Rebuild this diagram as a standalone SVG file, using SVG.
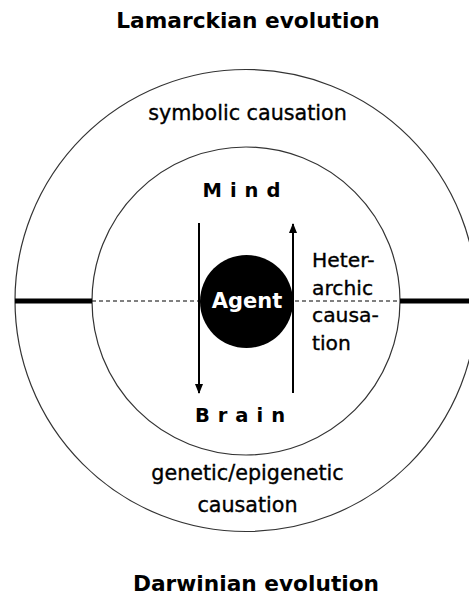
<svg xmlns="http://www.w3.org/2000/svg" width="469" height="599" viewBox="0 0 469 599">
<style>
text{font-family:"DejaVu Sans","Liberation Sans",sans-serif;fill:#000}
.title{font-weight:bold;font-size:21.7px;text-anchor:middle}
.lbl{font-size:20.7px;text-anchor:middle;stroke:#000;stroke-width:0.35}
.pole{font-weight:bold;font-size:19.5px;text-anchor:middle;letter-spacing:8px}
.het{font-size:20.3px;stroke:#000;stroke-width:0.35}
.ring{fill:none;stroke:#333;stroke-width:1.2}
.arr{stroke:#000;stroke-width:2;fill:none;marker-end:url(#ah)}
</style>
<defs>
<marker id="ah" viewBox="0 0 10 10" refX="9" refY="5" markerWidth="5" markerHeight="5" orient="auto" markerUnits="strokeWidth">
<path d="M0,1 L10,5 L0,9 z" fill="#000"/>
</marker>
</defs>
<rect width="469" height="599" fill="#fff"/>
<g id="outer-ring"><circle class="ring" cx="246" cy="300.5" r="231"/></g>
<g id="inner-ring"><circle class="ring" cx="246" cy="301" r="154"/></g>
<g id="connectors">
<line x1="15" y1="301" x2="92" y2="301" stroke="#000" stroke-width="5"/>
<line x1="400" y1="301" x2="469" y2="301" stroke="#000" stroke-width="5"/>
<line x1="92" y1="301" x2="400" y2="301" stroke="#000" stroke-width="1" stroke-dasharray="4,3"/>
<line class="arr" x1="199" y1="223" x2="199" y2="393"/>
<line class="arr" x1="293" y1="393" x2="293" y2="224"/>
</g>
<g id="agent">
<circle cx="246.5" cy="301.5" r="46.5" fill="#000"/>
<text x="247" y="308" style="font-weight:bold;font-size:21px;text-anchor:middle;fill:#fff">Agent</text>
</g>
<g id="lamarckian"><text class="title" x="248" y="28">Lamarckian evolution</text></g>
<g id="darwinian"><text class="title" x="256" y="591">Darwinian evolution</text></g>
<g id="symbolic"><text class="lbl" x="247.5" y="120">symbolic causation</text></g>
<g id="genetic"><text class="lbl" x="247.5" y="480">genetic/epigenetic</text><text class="lbl" x="247.5" y="512">causation</text></g>
<g id="mind"><text class="pole" x="245.5" y="197">Mind</text></g>
<g id="brain"><text class="pole" x="244" y="422">Brain</text></g>
<g id="heterarchic">
<text class="het" x="312" y="267">Heter-</text>
<text class="het" x="312" y="295">archic</text>
<text class="het" x="312" y="322">causa-</text>
<text class="het" x="312" y="350">tion</text>
</g>
</svg>
